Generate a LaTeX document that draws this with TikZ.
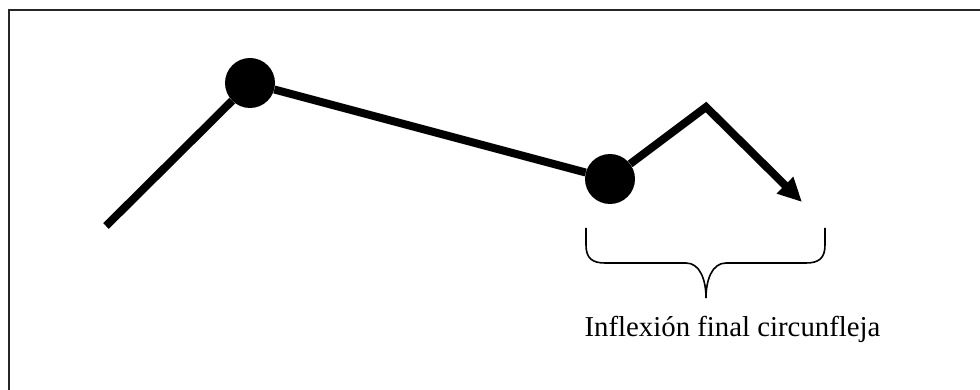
\documentclass[tikz,border=0pt]{standalone}
\usepackage{fontspec}
\setmainfont{Liberation Serif}
\usetikzlibrary{arrows.meta}
\begin{document}
\begin{tikzpicture}[x=1pt,y=-1pt,
  dot/.style={circle,fill=black,inner sep=0pt,minimum size=50pt},
  thickline/.style={line width=8pt,black},
  bracepath/.style={line width=1.6pt,black},
  frameline/.style={line width=2pt,black!85},
  label/.style={font=\fontsize{28.8}{32}\selectfont,inner sep=0pt,anchor=base}]
\useasboundingbox (0,0) rectangle (980,390);
\draw[frameline] (8.5,390) -- (8.5,10) -- (980,10);
\node[dot] (c1) at (250,83) {};
\node[dot] (c2) at (610,179) {};
\coordinate (s) at (106,226);
\coordinate (p) at (706,107);
\coordinate (t) at (802,202);
\draw[thickline] (s) -- (c1);
\draw[thickline] (c1) -- (c2);
\draw[thickline,-{Triangle[length=24pt,width=22pt]}] (c2) -- (p) -- (t);
\draw[bracepath] (586,228) -- (586,245) .. controls (586,258) and (592,263) .. (605,263) -- (686,263) .. controls (700,263) and (706,280) .. (706,298);
\draw[bracepath] (706,298) .. controls (706,280) and (712,263) .. (726,263) -- (806,263) .. controls (819,263) and (825,258) .. (825,245) -- (825,228);
\node[label] (lab) at (732.5,336) {Inflexión final circunfleja};
\end{tikzpicture}
\end{document}
